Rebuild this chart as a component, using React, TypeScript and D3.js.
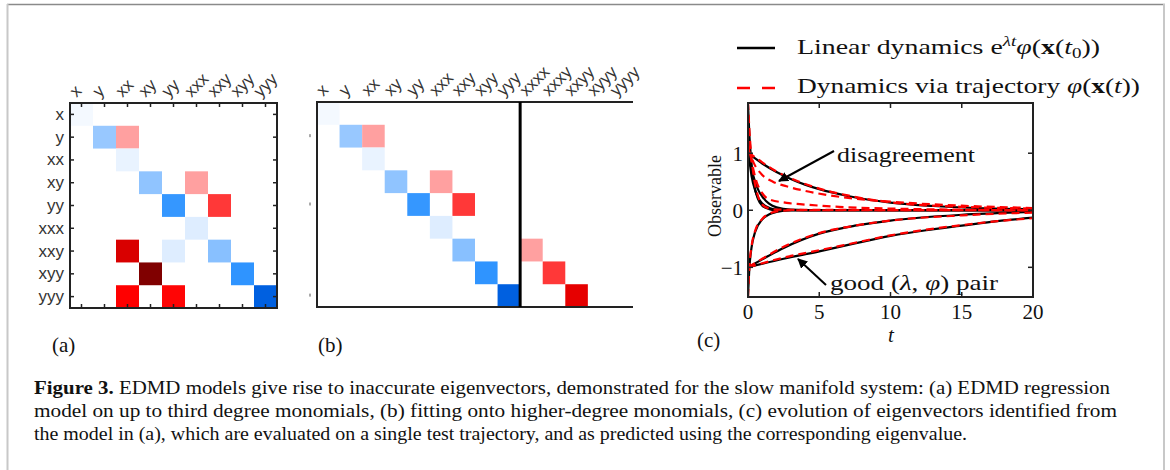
import * as d3 from "d3";

// monomial labels for the regression matrices
const rowLabels = ["x", "y", "xx", "xy", "yy", "xxx", "xxy", "xyy", "yyy"];
const colLabelsB = [...rowLabels, "xxxx", "xxxy", "xxyy", "xyyy", "yyyy"];

// [row, col, coefficient]
type Cell = [number, number, number];
const cellsA: Cell[] = [
  [0, 0, -0.04],
  [1, 1, -0.37], [1, 2, 0.4],
  [2, 2, -0.08],
  [3, 3, -0.4], [3, 5, 0.4],
  [4, 4, -0.73], [4, 6, 0.76],
  [5, 5, -0.12],
  [6, 2, 1.3], [6, 4, -0.12], [6, 6, -0.43],
  [7, 3, 2.0], [7, 7, -0.75],
  [8, 2, 1.0], [8, 4, 0.98], [8, 8, -1.0],
];
const cellsB: Cell[] = [
  [0, 0, -0.04],
  [1, 1, -0.37], [1, 2, 0.4],
  [2, 2, -0.08],
  [3, 3, -0.4], [3, 5, 0.4],
  [4, 4, -0.73], [4, 6, 0.76],
  [5, 5, -0.12],
  [6, 6, -0.43], [6, 9, 0.4],
  [7, 7, -0.75], [7, 10, 0.76],
  [8, 8, -1.0], [8, 11, 1.2],
];

const colorStops = [-1, -0.75, -0.4, 0, 0.4, 0.75, 1, 1.3, 2];
const colorRange = ["#0060e0", "#2f94ff", "#90c4ff", "#ffffff", "#ffa0a0", "#ff3a3a", "#ff0000", "#d90000", "#800000"];

// panel (c): [t, observable]
type Pt = [number, number];
const linearCurves: Pt[][] = [
  [[0, 1.0], [1, 0.82], [2, 0.67], [3, 0.55], [4, 0.45], [5, 0.37], [7, 0.25], [10, 0.135], [13, 0.075], [16, 0.04], [20, 0.018]],
  [[0, 1.05], [0.25, 0.72], [0.5, 0.5], [0.75, 0.34], [1, 0.24], [1.5, 0.11], [2, 0.05], [3, 0.01], [5, 0], [20, 0]],
  [[0, 1.1], [0.25, 0.6], [0.5, 0.35], [0.75, 0.2], [1, 0.12], [1.5, 0.04], [2, 0.01], [3, 0], [20, 0]],
  [[0, 1.85], [0.1, 1.3], [0.2, 0.95], [0.4, 0.5], [0.7, 0.2], [1, 0.08], [1.5, 0.02], [2, 0], [20, 0]],
  [[0, -1], [2.5, -0.85], [5, -0.72], [7.5, -0.58], [10, -0.45], [12.5, -0.35], [15, -0.27], [17.5, -0.19], [20, -0.13]],
  [[0, -1], [1, -0.86], [2.5, -0.66], [5, -0.41], [7.5, -0.27], [10, -0.18], [15, -0.08], [20, -0.03]],
  [[0, -1.5], [0.1, -1.0], [0.25, -0.65], [0.5, -0.38], [1, -0.16], [1.5, -0.07], [2, -0.03], [3, 0], [20, 0]],
];
const trajectoryCurves: Pt[][] = [
  [[0, 1.02], [1, 0.84], [2, 0.68], [3, 0.56], [5, 0.38], [7, 0.26], [10, 0.14], [15, 0.06], [20, 0.03]],
  [[0, 1.1], [0.4, 0.83], [1, 0.62], [1.75, 0.5], [2.7, 0.42], [4, 0.34], [5.5, 0.27], [8, 0.19], [10, 0.15], [15, 0.08], [20, 0.04]],
  [[0, 1.2], [0.3, 0.8], [0.6, 0.5], [1, 0.3], [1.4, 0.2], [2.7, 0.13], [4, 0.1], [6.4, 0.06], [10, 0.03], [20, 0.0]],
  [[0, 1.9], [0.1, 1.4], [0.2, 1.05], [0.4, 0.6], [0.7, 0.25], [1, 0.1], [1.5, 0.03], [2, 0.01], [20, 0]],
  [[0, -1], [2.5, -0.83], [5, -0.7], [7.5, -0.57], [10, -0.44], [12.5, -0.34], [15, -0.26], [17.5, -0.19], [20, -0.14]],
  [[0, -1], [1, -0.85], [2.5, -0.64], [5, -0.4], [7.5, -0.27], [10, -0.18], [15, -0.09], [20, -0.04]],
  [[0, -1.52], [0.1, -0.98], [0.25, -0.63], [0.5, -0.36], [1, -0.15], [1.5, -0.06], [2, -0.02], [3, 0], [20, 0]],
];
const xTicks = [0, 5, 10, 15, 20];
const yTicks = [-1, 0, 1];

const captionLines = [
  "EDMD models give rise to inaccurate eigenvectors, demonstrated for the slow manifold system: (a) EDMD regression",
  "model on up to third degree monomials, (b) fitting onto higher-degree monomials, (c) evolution of eigenvectors identified from",
  "the model in (a), which are evaluated on a single test trajectory, and as predicted using the corresponding eigenvalue.",
];

const serif = "'Liberation Serif', 'DejaVu Serif', serif";
const sans = "'Liberation Sans', Arial, sans-serif";

const color = d3.scaleLinear<string>().domain(colorStops).range(colorRange).clamp(true);

function Matrix(props: {
  x0: number; y0: number; w: number; h: number;
  cols: string[]; cells: Cell[]; rowText: boolean; ticks: boolean; divider?: number;
}) {
  const { x0, y0, w, h, cols, cells, rowText, ticks, divider } = props;
  const xs = d3.scaleBand<number>().domain(d3.range(cols.length)).range([x0, x0 + w]);
  const ys = d3.scaleBand<number>().domain(d3.range(rowLabels.length)).range([y0, y0 + h]);
  const bw = xs.bandwidth();
  const bh = ys.bandwidth();
  return (
    <g>
      {cells.map(([r, c, v], i) => (
        <rect key={i} x={xs(c)!} y={ys(r)!} width={bw} height={bh} fill={color(v)} />
      ))}
      {cols.map((lab, i) => (
        <text key={lab} transform={`translate(${xs(i)! + bw / 2 - 5},${y0 - 5}) rotate(-45)`}
          fontFamily={sans} fontSize={17} fill="#333">{lab}</text>
      ))}
      {rowText && rowLabels.map((lab, i) => (
        <text key={lab} x={x0 - 6} y={ys(i)! + bh / 2} textAnchor="end" dominantBaseline="central"
          fontFamily={sans} fontSize={17} fill="#333">{lab}</text>
      ))}
      {!rowText && [1, 4, 8].map((i) => (
        <line key={i} x1={x0 - 7} x2={x0 - 7} y1={ys(i)! + bh / 2 - 2} y2={ys(i)! + bh / 2 + 1} stroke="#555" strokeWidth={1} />
      ))}
      {ticks && (
        <g stroke="#222" strokeWidth={1.5}>
          {cols.map((_, i) => (
            <g key={i}>
              <line x1={xs(i)! + bw / 2} x2={xs(i)! + bw / 2} y1={y0} y2={y0 + 4} />
              <line x1={xs(i)! + bw / 2} x2={xs(i)! + bw / 2} y1={y0 + h} y2={y0 + h - 4} />
            </g>
          ))}
          {rowLabels.map((_, i) => (
            <g key={i}>
              <line x1={x0} x2={x0 + 4} y1={ys(i)! + bh / 2} y2={ys(i)! + bh / 2} />
              <line x1={x0 + w} x2={x0 + w - 4} y1={ys(i)! + bh / 2} y2={ys(i)! + bh / 2} />
            </g>
          ))}
        </g>
      )}
      {ticks ? (
        <rect x={x0} y={y0} width={w} height={h} fill="none" stroke="#222" strokeWidth={2} />
      ) : (
        <path d={`M${x0 + w},${y0}H${x0}V${y0 + h}H${x0 + w}`} fill="none" stroke="#222" strokeWidth={2} />
      )}
      {divider !== undefined && (
        <line x1={xs(divider)!} x2={xs(divider)!} y1={y0} y2={y0 + h} stroke="#000" strokeWidth={3} />
      )}
    </g>
  );
}

function Dynamics() {
  const x = d3.scaleLinear().domain([0, 20]).range([748, 1033]);
  const y = d3.scaleLinear().domain([-1.52, 1.88]).range([297, 103]);
  const line = d3.line<Pt>().x((d) => x(d[0])).y((d) => y(d[1])).curve(d3.curveMonotoneX);
  const [x0, x1] = x.range();
  const [yb, yt] = y.range();
  return (
    <g>
      <defs>
        <clipPath id="plotclip">
          <rect x={x0} y={yt} width={x1 - x0} height={yb - yt} />
        </clipPath>
        <marker id="arr" viewBox="0 0 10 10" refX="9" refY="5" markerWidth="5" markerHeight="5" orient="auto">
          <path d="M0,0L10,5L0,10z" fill="#000" />
        </marker>
      </defs>
      <g clipPath="url(#plotclip)" fill="none">
        {linearCurves.map((c, i) => (
          <path key={"k" + i} d={line(c)!} stroke="#000" strokeWidth={2.2} />
        ))}
        {trajectoryCurves.map((c, i) => (
          <path key={"r" + i} d={line(c)!} stroke="#ff0000" strokeWidth={2.2} strokeDasharray="8,5" />
        ))}
      </g>
      <g stroke="#222" strokeWidth={1.5}>
        {xTicks.map((t) => (
          <g key={t}>
            <line x1={x(t)} x2={x(t)} y1={yb} y2={yb - 5} />
            <line x1={x(t)} x2={x(t)} y1={yt} y2={yt + 5} />
          </g>
        ))}
        {yTicks.map((t) => (
          <g key={t}>
            <line x1={x0} x2={x0 + 5} y1={y(t)} y2={y(t)} />
            <line x1={x1} x2={x1 - 5} y1={y(t)} y2={y(t)} />
          </g>
        ))}
      </g>
      <rect x={x0} y={yt} width={x1 - x0} height={yb - yt} fill="none" stroke="#222" strokeWidth={2} />
      {xTicks.map((t) => (
        <text key={t} x={x(t)} y={319} textAnchor="middle" fontFamily={serif} fontSize={21} fill="#111">{t}</text>
      ))}
      {yTicks.map((t) => (
        <text key={t} x={743} y={y(t)} dy="0.35em" textAnchor="end" fontFamily={serif} fontSize={21} fill="#111">
          {t < 0 ? "\u2212" + Math.abs(t) : t}
        </text>
      ))}
      <text x={891} y={342} textAnchor="middle" fontFamily={serif} fontStyle="italic" fontSize={21} fill="#111">t</text>
      <text transform="translate(721,196) rotate(-90)" textAnchor="middle" fontFamily={serif} fontSize={18} fill="#111">Observable</text>

      {/* annotations */}
      <line x1={834} y1={151} x2={779} y2={181} stroke="#000" strokeWidth={2} markerEnd="url(#arr)" />
      <text x={837} y={162} fontFamily={serif} fontSize={22} fill="#111" textLength={138} lengthAdjust="spacingAndGlyphs">disagreement</text>
      <line x1={826} y1={285} x2={798} y2={259} stroke="#000" strokeWidth={2} markerEnd="url(#arr)" />
      <text x={830} y={290} fontFamily={serif} fontSize={22} fill="#111" textLength={168} lengthAdjust="spacingAndGlyphs">
        good (<tspan fontStyle="italic">λ</tspan>, <tspan fontStyle="italic">φ</tspan>) pair
      </text>

      {/* legend */}
      <line x1={737} x2={775} y1={48} y2={48} stroke="#000" strokeWidth={2.5} />
      <text x={797} y={54} fontFamily={serif} fontSize={22} fill="#111" textLength={303} lengthAdjust="spacingAndGlyphs">
        Linear dynamics e<tspan dy={-8} fontSize={15} fontStyle="italic">λt</tspan>
        <tspan dy={8} fontStyle="italic">φ</tspan>(<tspan fontWeight="bold">x</tspan>(<tspan fontStyle="italic">t</tspan>
        <tspan dy={4} fontSize={15}>0</tspan><tspan dy={-4}>))</tspan>
      </text>
      <line x1={737} x2={775} y1={88} y2={88} stroke="#ff0000" strokeWidth={2.5} strokeDasharray="13,12" />
      <text x={797} y={93} fontFamily={serif} fontSize={22} fill="#111" textLength={343} lengthAdjust="spacingAndGlyphs">
        Dynamics via trajectory <tspan fontStyle="italic">φ</tspan>(<tspan fontWeight="bold">x</tspan>(<tspan fontStyle="italic">t</tspan>))
      </text>
    </g>
  );
}

export default function App() {
  return (
    <svg width={1170} height={470} style={{ position: "absolute", left: 0, top: 0, background: "#fff" }}>
      <rect width={1170} height={470} fill="#fff" />
      {/* figure frame */}
      <line x1={7} x2={1165} y1={4.5} y2={4.5} stroke="#8a8a8a" strokeWidth={1.5} />
      <line x1={7.5} x2={7.5} y1={4} y2={470} stroke="#c8c8c8" strokeWidth={2} />
      <line x1={1164} x2={1164} y1={4} y2={470} stroke="#c8c8c8" strokeWidth={2} />

      <Matrix x0={70} y0={103} w={207} h={205} cols={rowLabels} cells={cellsA} rowText={true} ticks={true} />
      <Matrix x0={317} y0={102} w={316} h={205} cols={colLabelsB} cells={cellsB} rowText={false} ticks={false} divider={9} />
      <Dynamics />

      <text x={52} y={352} fontFamily={serif} fontSize={21} fill="#111">(a)</text>
      <text x={318} y={352} fontFamily={serif} fontSize={21} fill="#111">(b)</text>
      <text x={697} y={347} fontFamily={serif} fontSize={21} fill="#111">(c)</text>

      {captionLines.map((ln, i) => (
        <text key={i} x={34} y={394 + i * 23} fontFamily={serif} fontSize={19} fill="#111"
          textLength={[1076, 1083, 933][i]} lengthAdjust="spacingAndGlyphs">
          {i === 0 && <tspan fontWeight="bold">Figure 3. </tspan>}
          {ln}
        </text>
      ))}
    </svg>
  );
}
